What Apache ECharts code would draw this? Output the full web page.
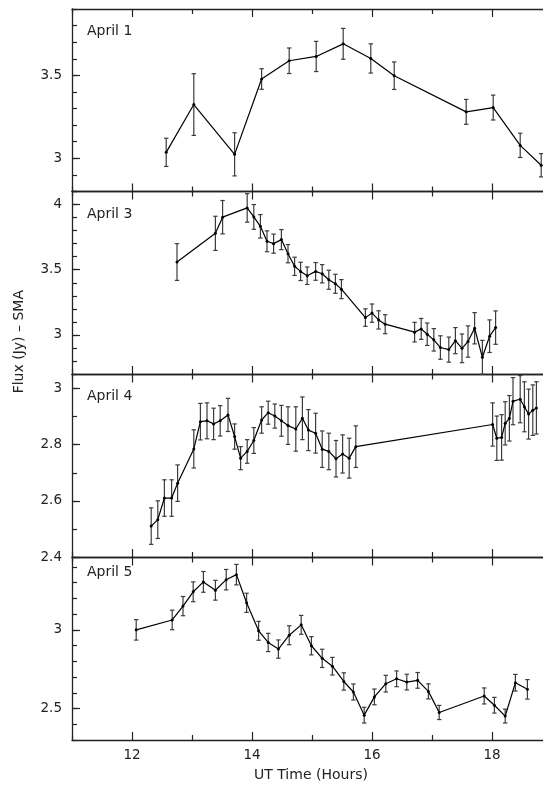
<!DOCTYPE html>
<html>
<head>
<meta charset="utf-8">
<script src="https://cdn.jsdelivr.net/npm/echarts@6/dist/echarts.min.js"></script>
<style>
  html, body { margin: 0; padding: 0; background: #fff; }
  #chart { width: 543px; height: 789px; }
</style>
</head>
<body>
<div id="chart"></div>
<script>
// hour ticks on the shared time axis
const hourMajor = [12, 14, 16, 18];
const hourMinor = [11, 13, 15, 17];

const panelNames = ["April 1", "April 3", "April 4", "April 5"];

// April 1
const april1Hours = [12.57, 13.03, 13.71, 14.16, 14.62, 15.07, 15.52, 15.98, 16.37, 17.57, 18.02, 18.47, 18.82];
const april1Flux = [3.036, 3.324, 3.024, 3.478, 3.588, 3.614, 3.69, 3.602, 3.498, 3.28, 3.306, 3.078, 2.958];
const april1Err = [0.085, 0.186, 0.13, 0.062, 0.077, 0.091, 0.093, 0.088, 0.083, 0.075, 0.075, 0.073, 0.07];
const april1Ticks = [3, 3.5];

// April 3
const april3Hours = [12.75, 13.39, 13.51, 13.92, 14.03, 14.14, 14.25, 14.36, 14.49, 14.6, 14.71, 14.81, 14.92, 15.06, 15.17, 15.28, 15.39, 15.49,
    15.89, 16.0, 16.11, 16.22, 16.71, 16.82, 16.92, 17.03, 17.14, 17.28, 17.39, 17.5, 17.6, 17.71, 17.84, 17.96, 18.06];
const april3Flux = [3.559, 3.779, 3.903, 3.974, 3.905, 3.833, 3.718, 3.7, 3.731, 3.623, 3.526, 3.487, 3.454, 3.487, 3.469, 3.423, 3.392, 3.351,
    3.133, 3.167, 3.115, 3.082, 3.021, 3.046, 3.005, 2.962, 2.903, 2.887, 2.956, 2.897, 2.949, 3.051, 2.828, 2.99, 3.056];
const april3Err = [0.141, 0.131, 0.128, 0.109, 0.095, 0.09, 0.08, 0.073, 0.077, 0.07, 0.07, 0.07, 0.067, 0.068, 0.07, 0.073, 0.073, 0.073,
    0.067, 0.07, 0.07, 0.073, 0.075, 0.08, 0.086, 0.086, 0.09, 0.096, 0.1, 0.11, 0.12, 0.12, 0.13, 0.125, 0.128];
const april3Ticks = [3, 3.5, 4];

// April 4
const april4Hours = [12.32, 12.43, 12.54, 12.66, 12.76, 13.03, 13.14, 13.25, 13.36, 13.47, 13.6, 13.71, 13.81, 13.92, 14.03, 14.16, 14.27, 14.38,
    14.49, 14.6, 14.73, 14.84, 14.94, 15.06, 15.17, 15.28, 15.4, 15.51, 15.62, 15.73,
    18.01, 18.08, 18.16, 18.22, 18.29, 18.35, 18.47, 18.54, 18.61, 18.68, 18.74];
const april4Flux = [2.51, 2.533, 2.61, 2.61, 2.663, 2.785, 2.882, 2.885, 2.874, 2.885, 2.906, 2.829, 2.752, 2.776, 2.815, 2.888, 2.914, 2.902,
    2.885, 2.868, 2.856, 2.894, 2.852, 2.841, 2.784, 2.776, 2.75, 2.767, 2.752, 2.793,
    2.872, 2.823, 2.826, 2.876, 2.894, 2.955, 2.962, 2.935, 2.909, 2.923, 2.931];
const april4Err = [0.065, 0.067, 0.065, 0.065, 0.065, 0.068, 0.065, 0.064, 0.056, 0.054, 0.059, 0.045, 0.041, 0.042, 0.046, 0.047, 0.041, 0.043,
    0.055, 0.067, 0.079, 0.076, 0.073, 0.071, 0.065, 0.065, 0.065, 0.068, 0.071, 0.074,
    0.077, 0.079, 0.081, 0.077, 0.081, 0.084, 0.084, 0.089, 0.089, 0.09, 0.093];
const april4Ticks = [2.4, 2.6, 2.8, 3];

// April 5
const april5Hours = [12.07, 12.67, 12.85, 13.02, 13.19, 13.39, 13.57, 13.74, 13.91, 14.11, 14.27, 14.44, 14.62, 14.82, 14.99, 15.17,
    15.34, 15.53, 15.69, 15.87, 16.04, 16.23, 16.41, 16.58, 16.76, 16.94, 17.12, 17.87, 18.04, 18.22, 18.39, 18.59];
const april5Flux = [3.0, 3.063, 3.151, 3.242, 3.305, 3.252, 3.319, 3.351, 3.172, 2.994, 2.92, 2.878, 2.966, 3.032, 2.899, 2.819,
    2.769, 2.672, 2.605, 2.458, 2.574, 2.658, 2.689, 2.668, 2.679, 2.609, 2.475, 2.58, 2.521, 2.452, 2.664, 2.622];
const april5Err = [0.065, 0.062, 0.061, 0.063, 0.066, 0.063, 0.065, 0.065, 0.061, 0.06, 0.058, 0.058, 0.06, 0.06, 0.058, 0.058,
    0.056, 0.055, 0.051, 0.05, 0.05, 0.053, 0.05, 0.05, 0.05, 0.048, 0.045, 0.051, 0.05, 0.044, 0.053, 0.062];
const april5Ticks = [2.5, 3];

const panels = [
    { hours: april1Hours, flux: april1Flux, err: april1Err, ticks: april1Ticks, min: 2.8, max: 3.9, top: 9, labelY: 32.5 },
    { hours: april3Hours, flux: april3Flux, err: april3Err, ticks: april3Ticks, min: 2.7, max: 4.1, top: 191.5, labelY: 215.5 },
    { hours: april4Hours, flux: april4Flux, err: april4Err, ticks: april4Ticks, min: 2.4, max: 3.05, top: 374.5, labelY: 397.5 },
    { hours: april5Hours, flux: april5Flux, err: april5Err, ticks: april5Ticks, min: 2.3, max: 3.46, top: 557.5, labelY: 573.5 }
];

const fuente = "DejaVu Sans";
const tinta = "#222";
const alto = 182.5;

const grids = [];
const xAxes = [];
const yAxes = [];
const series = [];
const textos = [];

function ejeX(grid, pos, valores, largo, conLinea, conEtiquetas) {
    return {
        type: "value", gridIndex: grid, position: pos, min: 11, max: 18.85,
        interval: 1,
        axisLine: { show: conLinea, onZero: false, lineStyle: { color: tinta, width: 1.3 } },
        axisTick: { show: true, inside: true, length: largo, customValues: valores, lineStyle: { color: tinta, width: 1.2 } },
        axisLabel: { show: conEtiquetas, customValues: valores, margin: 8, color: "#222", fontFamily: fuente, fontSize: 13.5 },
        splitLine: { show: false }
    };
}

function ejeY(grid, p, valores, largo, conLinea, conEtiquetas) {
    return {
        type: "value", gridIndex: grid, position: "left", min: p.min, max: p.max,
        interval: 0.1,
        axisLine: { show: conLinea, onZero: false, lineStyle: { color: tinta, width: 1.3 } },
        axisTick: { show: true, inside: true, length: largo, customValues: valores, lineStyle: { color: tinta, width: 1.2 } },
        axisLabel: { show: conEtiquetas, customValues: valores, showMinLabel: true, showMaxLabel: true, margin: 10,
            color: "#222", fontFamily: fuente, fontSize: 13.5 },
        splitLine: { show: false }
    };
}

function barraError(params, api) {
    const x = api.value(0);
    const y = api.value(1);
    const e = api.value(2);
    const arriba = api.coord([x, y + e]);
    const abajo = api.coord([x, y - e]);
    const cap = 2.2;
    const estilo = { stroke: "#3c3c3c", lineWidth: 1.2 };
    return {
        type: "group",
        children: [
            { type: "line", shape: { x1: arriba[0], y1: arriba[1], x2: abajo[0], y2: abajo[1] }, style: estilo },
            { type: "line", shape: { x1: arriba[0] - cap, y1: arriba[1], x2: arriba[0] + cap, y2: arriba[1] }, style: estilo },
            { type: "line", shape: { x1: abajo[0] - cap, y1: abajo[1], x2: abajo[0] + cap, y2: abajo[1] }, style: estilo }
        ]
    };
}

panels.forEach((p, i) => {
    grids.push({ left: 72, right: 0, top: p.top, height: alto });

    const menoresY = [];
    for (let v = Math.round(p.min * 10); v <= Math.round(p.max * 10); v++) menoresY.push(v / 10);

    xAxes.push(ejeX(i, "bottom", hourMajor, 8, true, i === 3));
    xAxes.push(ejeX(i, "bottom", hourMinor, 5, false, false));
    xAxes.push(ejeX(i, "top", hourMajor, 8, true, false));
    xAxes.push(ejeX(i, "top", hourMinor, 5, false, false));

    yAxes.push(ejeY(i, p, p.ticks, 8, true, true));
    yAxes.push(ejeY(i, p, menoresY, 5, false, false));

    series.push({
        type: "line",
        xAxisIndex: i * 4,
        yAxisIndex: i * 2,
        data: p.hours.map((h, k) => [h, p.flux[k]]),
        symbol: "circle",
        symbolSize: 3,
        itemStyle: { color: "#000" },
        lineStyle: { color: "#000", width: 1.2 },
        animation: false,
        z: 3
    });
    series.push({
        type: "custom",
        xAxisIndex: i * 4,
        yAxisIndex: i * 2,
        data: p.hours.map((h, k) => [h, p.flux[k], p.err[k]]),
        renderItem: barraError,
        animation: false,
        z: 2
    });

    textos.push({
        type: "text", left: 87, top: p.labelY - 8,
        style: { text: panelNames[i], fontFamily: fuente, fontSize: 14, fill: "#222" }
    });
});

textos.push({
    type: "text", left: 254, top: 768,
    style: { text: "UT Time (Hours)", fontFamily: fuente, fontSize: 14, fill: "#222" }
});
textos.push({
    type: "text", left: 12, top: 290, rotation: Math.PI / 2,
    style: { text: "Flux (Jy) \u2013 SMA", fontFamily: fuente, fontSize: 14, fill: "#222" }
});

const miGrafico = echarts.init(document.getElementById("chart"));
miGrafico.setOption({
    animation: false,
    backgroundColor: "#fff",
    grid: grids,
    xAxis: xAxes,
    yAxis: yAxes,
    series: series,
    graphic: textos
});
</script>
</body>
</html>
